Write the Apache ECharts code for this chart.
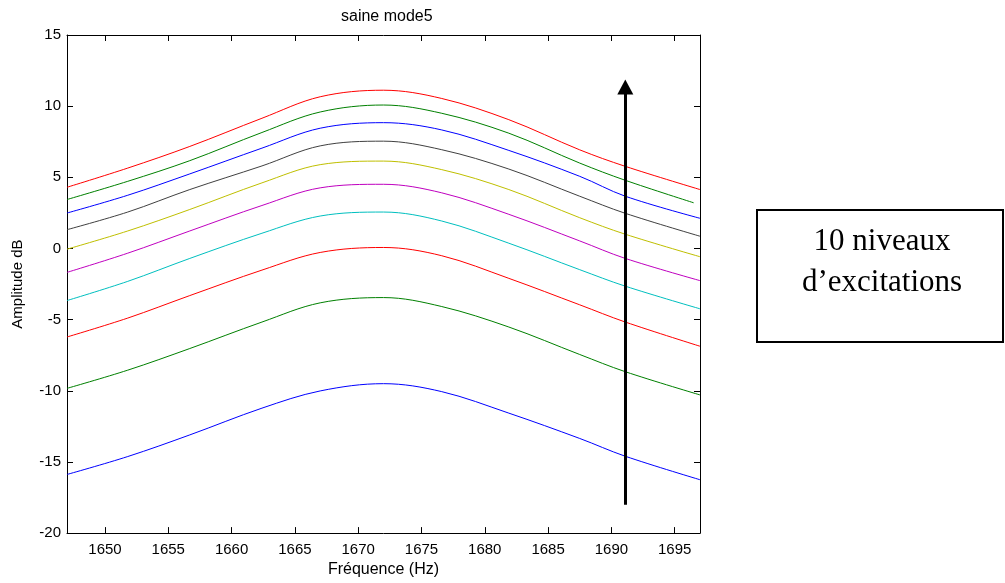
<!DOCTYPE html>
<html>
<head>
<meta charset="utf-8">
<script src="https://cdn.jsdelivr.net/npm/echarts@6/dist/echarts.min.js"></script>
<style>
html,body{margin:0;padding:0;background:#fff;}
#c{width:1005px;height:583px;}
</style>
</head>
<body>
<div id="c"></div>
<script>
// Frequencies (Hz) at which values were read
const freqs = [1647, 1651.8, 1656.7, 1662.4, 1667, 1672, 1676.6, 1681.9, 1687.5, 1691.1, 1697];
// Last frequency per curve (top green stops slightly early)
const lastFreq = [1697, 1697, 1697, 1697, 1697, 1697, 1697, 1697, 1696.5, 1697];
// Amplitude (dB), plotting order from lowest level to highest
const level1 = [-15.88, -14.62, -13.10, -11.22, -10.01, -9.50, -10.06, -11.57, -13.35, -14.60, -16.25];
const level2 = [-9.83, -8.55, -7.03, -5.17, -3.82, -3.45, -4.08, -5.52, -7.45, -8.66, -10.29];
const level3 = [-6.22, -4.89, -3.31, -1.52, -0.28, 0.07, -0.51, -2.10, -3.96, -5.17, -6.87];
const level4 = [-3.66, -2.31, -0.70, 1.07, 2.28, 2.56, 1.93, 0.37, -1.49, -2.65, -4.24];
const level5 = [-1.68, -0.33, 1.23, 3.02, 4.26, 4.51, 3.91, 2.40, 0.53, -0.70, -2.26];
const level6 = [-0.05, 1.23, 2.74, 4.61, 5.89, 6.14, 5.54, 4.14, 2.16, 1.00, -0.58];
const level7 = [1.32, 2.56, 4.14, 5.80, 7.21, 7.54, 6.94, 5.58, 3.67, 2.47, 0.86];
const level8 = [2.49, 3.74, 5.24, 7.05, 8.45, 8.84, 8.33, 6.89, 5.07, 3.67, 2.12];
const level9 = [3.44, 4.72, 6.17, 8.15, 9.59, 10.08, 9.50, 8.10, 6.00, 4.79, 3.21];
const level10 = [4.30, 5.65, 7.17, 9.15, 10.66, 11.12, 10.54, 9.05, 6.93, 5.77, 4.14];
const levels = [level1, level2, level3, level4, level5, level6, level7, level8, level9, level10];
const colors = ['#0000FF', '#008000', '#FF0000', '#00BFBF', '#BF00BF', '#BFBF00', '#404040', '#0000FF', '#008000', '#FF0000'];
// Tick labels
const xTicks = [1650, 1655, 1660, 1665, 1670, 1675, 1680, 1685, 1690, 1695];
// Arrow annotation (data coords)
const arrowX = 1691.1;
const arrowFrom = -18;
const arrowTo = 11.35;

const FONT = '"Liberation Sans", Arial, Helvetica, sans-serif';

const series = levels.map(function (vals, i) {
  return {
    type: 'line',
    data: vals.map(function (v, k) {
      const f = (k === vals.length - 1) ? lastFreq[i] : freqs[k];
      return [f, v];
    }),
    showSymbol: false,
    smooth: 0.35,
    lineStyle: { color: colors[i], width: 1 },
    itemStyle: { color: colors[i] },
    silent: true,
    z: 2
  };
});

series.push({
  type: 'line',
  data: [],
  silent: true,
  markLine: {
    silent: true,
    symbol: ['none', 'triangle'],
    symbolSize: [16, 15],
    label: { show: false },
    lineStyle: { color: '#000', width: 3, type: 'solid' },
    itemStyle: { color: '#000' },
    emphasis: { disabled: true },
    data: [[{ coord: [arrowX, arrowFrom] }, { coord: [arrowX, arrowTo] }]]
  },
  z: 5
});

const tickCommon = { inside: true, length: 6, lineStyle: { color: '#000', width: 1 } };
const plainNum = function (v) { return String(v); };

const option = {
  animation: false,
  backgroundColor: '#fff',
  title: {
    text: 'saine mode5',
    left: 336,
    top: 4,
    textStyle: { fontFamily: FONT, fontSize: 16, fontWeight: 'normal', color: '#000' }
  },
  grid: { left: 67, right: 305, top: 35, bottom: 47, containLabel: false },
  xAxis: [{
    type: 'value',
    min: 1647,
    max: 1697,
    position: 'bottom',
    name: 'Fréquence (Hz)',
    nameLocation: 'middle',
    nameGap: 27,
    nameTextStyle: { fontFamily: FONT, fontSize: 16, color: '#000' },
    axisLine: { show: true, onZero: false, lineStyle: { color: '#000', width: 1 } },
    axisTick: Object.assign({ customValues: xTicks }, tickCommon),
    axisLabel: { customValues: xTicks, formatter: plainNum, fontFamily: FONT, fontSize: 15, color: '#000', margin: 9 },
    splitLine: { show: false }
  }, {
    type: 'value',
    min: 1647,
    max: 1697,
    position: 'top',
    axisLine: { show: true, onZero: false, lineStyle: { color: '#000', width: 1 } },
    axisTick: Object.assign({ customValues: xTicks }, tickCommon),
    axisLabel: { show: false },
    splitLine: { show: false }
  }],
  yAxis: [{
    type: 'value',
    min: -20,
    max: 15,
    interval: 5,
    position: 'left',
    name: 'Amplitude dB',
    nameLocation: 'middle',
    nameGap: 42,
    nameTextStyle: { fontFamily: FONT, fontSize: 15, color: '#000' },
    axisLine: { show: true, onZero: false, lineStyle: { color: '#000', width: 1 } },
    axisTick: tickCommon,
    axisLabel: { formatter: plainNum, fontFamily: FONT, fontSize: 15, color: '#000', margin: 6 },
    splitLine: { show: false }
  }, {
    type: 'value',
    min: -20,
    max: 15,
    interval: 5,
    position: 'right',
    axisLine: { show: true, onZero: false, lineStyle: { color: '#000', width: 1 } },
    axisTick: tickCommon,
    axisLabel: { show: false },
    splitLine: { show: false }
  }],
  series: series,
  graphic: [
    {
      type: 'rect',
      shape: { x: 757, y: 210, width: 246, height: 132 },
      style: { fill: 'none', stroke: '#000', lineWidth: 2 },
      silent: true
    },
    {
      type: 'text',
      x: 882,
      y: 241.5,
      style: {
        text: '10 niveaux',
        font: '31px "Liberation Serif", "Times New Roman", serif',
        fill: '#000',
        align: 'center',
        verticalAlign: 'middle'
      },
      silent: true
    },
    {
      type: 'text',
      x: 882,
      y: 282.5,
      style: {
        text: 'd’excitations',
        font: '31px "Liberation Serif", "Times New Roman", serif',
        fill: '#000',
        align: 'center',
        verticalAlign: 'middle'
      },
      silent: true
    }
  ]
};

const chart = echarts.init(document.getElementById('c'), null, { renderer: 'canvas' });
chart.setOption(option);
</script>
</body>
</html>
